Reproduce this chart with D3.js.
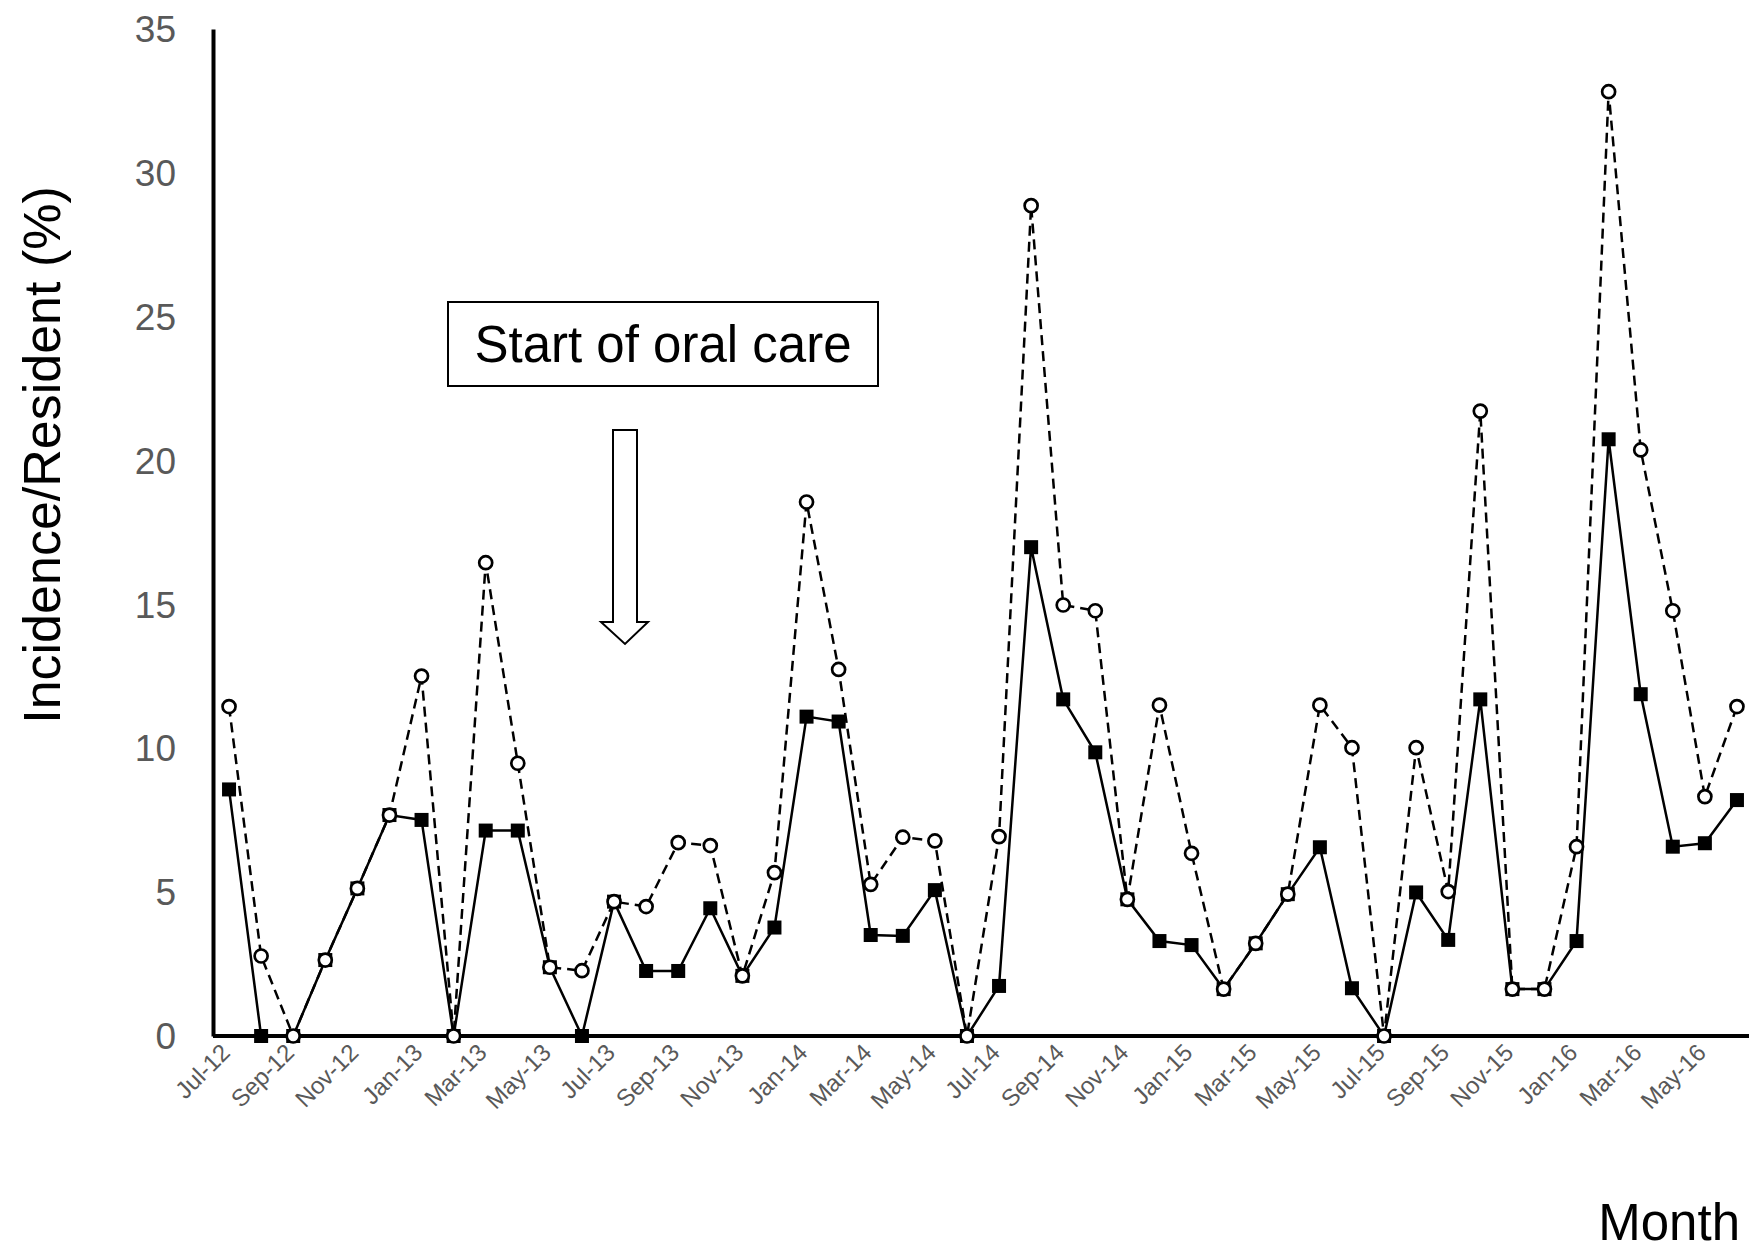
<!DOCTYPE html>
<html>
<head>
<meta charset="utf-8">
<script src="https://cdn.jsdelivr.net/npm/d3@7"></script>
<style>
  body { margin: 0; background: #fff; }
  svg { display: block; font-family: "Liberation Sans", Arial, sans-serif; }
</style>
</head>
<body>
<div id="chart"></div>
<script>
// month categories (every other one gets a label)
const months = ["Jul-12","Aug-12","Sep-12","Oct-12","Nov-12","Dec-12",
  "Jan-13","Feb-13","Mar-13","Apr-13","May-13","Jun-13","Jul-13","Aug-13","Sep-13","Oct-13","Nov-13","Dec-13",
  "Jan-14","Feb-14","Mar-14","Apr-14","May-14","Jun-14","Jul-14","Aug-14","Sep-14","Oct-14","Nov-14","Dec-14",
  "Jan-15","Feb-15","Mar-15","Apr-15","May-15","Jun-15","Jul-15","Aug-15","Sep-15","Oct-15","Nov-15","Dec-15",
  "Jan-16","Feb-16","Mar-16","Apr-16","May-16","Jun-16"];

// solid line, filled squares
const squareSeries = [8.57, 0, 0, 2.64, 5.13, 7.68,
  7.51, 0, 7.14, 7.14, 2.39, 0, 4.67, 2.26, 2.26, 4.44, 2.09, 3.77,
  11.1, 10.93, 3.51, 3.48, 5.07, 0, 1.74, 16.99, 11.7, 9.86, 4.75, 3.30,
  3.16, 1.63, 3.22, 4.93, 6.56, 1.66, 0, 4.99, 3.34, 11.7, 1.63, 1.63,
  3.30, 20.74, 11.88, 6.58, 6.70, 8.2];

// dashed line, open circles
const circleSeries = [11.45, 2.78, 0, 2.64, 5.13, 7.68,
  12.51, 0, 16.45, 9.48, 2.39, 2.27, 4.67, 4.5, 6.72, 6.62, 2.09, 5.68,
  18.56, 12.74, 5.27, 6.91, 6.78, 0, 6.93, 28.86, 14.98, 14.78, 4.75, 11.5,
  6.35, 1.63, 3.22, 4.93, 11.5, 10.02, 0, 10.02, 5.02, 21.72, 1.63, 1.63,
  6.58, 32.82, 20.37, 14.78, 8.32, 11.45];

const yTicks = [0, 5, 10, 15, 20, 25, 30, 35];

const width = 1749, height = 1250;
const grey = "#595959";

const svg = d3.select("#chart").append("svg")
  .attr("width", width)
  .attr("height", height);

const x = d3.scalePoint()
  .domain(months)
  .range([213, 1753])
  .padding(0.5);

const y = d3.scaleLinear()
  .domain([0, 35])
  .range([1036, 29]);

// y axis
const yAxis = svg.append("g")
  .attr("transform", "translate(213,0)")
  .call(d3.axisLeft(y).tickValues(yTicks).tickSize(0).tickPadding(37));
yAxis.select(".domain").attr("stroke", "#000").attr("stroke-width", 4);
yAxis.selectAll("text")
  .attr("fill", grey)
  .style("font-size", "37px")
  .attr("dy", "0.34em");

// x axis
const xAxis = svg.append("g")
  .attr("transform", "translate(0,1036)")
  .call(d3.axisBottom(x)
    .tickValues(months.filter((d, i) => i % 2 === 0))
    .tickSize(0));
xAxis.select(".domain").attr("stroke", "#000").attr("stroke-width", 4)
  .attr("d", "M213,0H1753");
xAxis.selectAll("text")
  .attr("fill", grey)
  .style("font-size", "24px")
  .attr("text-anchor", "end")
  .attr("x", 0).attr("y", 0).attr("dy", 0)
  .attr("transform", "translate(2,18) rotate(-45)");

// axis titles
svg.append("text")
  .attr("transform", "translate(60,455) rotate(-90)")
  .attr("text-anchor", "middle")
  .style("font-size", "52px")
  .text("Incidence/Resident (%)");

svg.append("text")
  .attr("x", 1740).attr("y", 1240)
  .attr("text-anchor", "end")
  .style("font-size", "51px")
  .text("Month");

// annotation box + hollow arrow
svg.append("rect")
  .attr("x", 448).attr("y", 302)
  .attr("width", 430).attr("height", 84)
  .attr("fill", "#fff").attr("stroke", "#000").attr("stroke-width", 2);
svg.append("text")
  .attr("x", 663).attr("y", 362)
  .attr("text-anchor", "middle")
  .style("font-size", "51px")
  .text("Start of oral care");

svg.append("path")
  .attr("d", "M613,430H637V622H648L625,644L601,622H613Z")
  .attr("fill", "#fff").attr("stroke", "#000").attr("stroke-width", 2);

// solid series
const lineGen = d3.line().x((d, i) => x(months[i])).y(d => y(d));
svg.append("path")
  .datum(squareSeries)
  .attr("d", lineGen)
  .attr("fill", "none")
  .attr("stroke", "#000")
  .attr("stroke-width", 2.5);
svg.append("g").selectAll("rect")
  .data(squareSeries)
  .join("rect")
  .attr("x", (d, i) => x(months[i]) - 7)
  .attr("y", d => y(d) - 7)
  .attr("width", 14).attr("height", 14)
  .attr("fill", "#000");

// dashed series
svg.append("path")
  .datum(circleSeries)
  .attr("d", lineGen)
  .attr("fill", "none")
  .attr("stroke", "#000")
  .attr("stroke-width", 2.5)
  .attr("stroke-dasharray", "10,6");
svg.append("g").selectAll("circle")
  .data(circleSeries)
  .join("circle")
  .attr("cx", (d, i) => x(months[i]))
  .attr("cy", d => y(d))
  .attr("r", 6.5)
  .attr("fill", "#fff")
  .attr("stroke", "#000")
  .attr("stroke-width", 2.7);
</script>
</body>
</html>
